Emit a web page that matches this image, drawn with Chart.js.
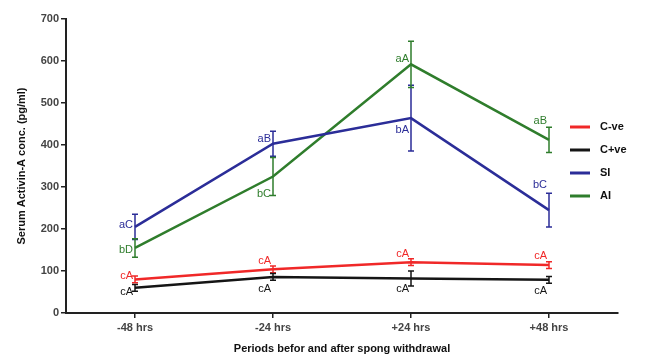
<html>
<body style="margin:0;background:#fff">
<div style="width:649px;height:360px"><canvas id="myChart"></canvas></div>
<script src="https://cdn.jsdelivr.net/npm/chart.js@4.4.1/dist/chart.umd.min.js"></script>
<script>
var periods = ['-48 hrs', '-24 hrs', '+24 hrs', '+48 hrs'];
var yTicks = [0, 100, 200, 300, 400, 500, 600, 700];

var cNeg = [80, 104, 121, 114];
var cPos = [60, 86, 82, 79];
var si = [205, 403, 464, 245];
var ai = [155, 325, 592, 412];

var cNegErr = [8, 8, 8, 8];
var cPosErr = [8, 8, 18, 8];
var siErr = [30, 30, 78, 40];
var aiErr = [22, 45, 55, 30];

var cNegLetters = ['cA', 'cA', 'cA', 'cA'];
var cPosLetters = ['cA', 'cA', 'cA', 'cA'];
var siLetters = ['aC', 'aB', 'bA', 'bC'];
var aiLetters = ['bD', 'bC', 'aA', 'aB'];

// vertical nudge of the letter labels (style only)
var letterDy = [[-3, -8, -8, -9], [4, 12, 10, 11], [-2, -5, 12, -25], [2, 17, -5, -19]];

var colors = ['#f02828', '#151515', '#2b2d98', '#2f7d2c'];
var font = 'Liberation Sans, Arial, sans-serif';

function makeSet(label, data, err, letters, color) {
    return {
        label: label,
        data: data,
        err: err,
        letters: letters,
        borderColor: color,
        backgroundColor: color,
        borderWidth: 2.5,
        pointRadius: 0,
        tension: 0
    };
}

var errorBars = {
    id: 'errorBars',
    afterDatasetsDraw: function (chart) {
        var ctx = chart.ctx;
        var ys = chart.scales.y;
        chart.data.datasets.forEach(function (ds, di) {
            var meta = chart.getDatasetMeta(di);
            ctx.save();
            ctx.strokeStyle = ds.borderColor;
            ctx.fillStyle = ds.borderColor;
            ctx.lineWidth = 1.5;
            meta.data.forEach(function (pt, i) {
                var top = ys.getPixelForValue(ds.data[i] + ds.err[i]);
                var bot = ys.getPixelForValue(ds.data[i] - ds.err[i]);
                ctx.beginPath();
                ctx.moveTo(pt.x, top); ctx.lineTo(pt.x, bot);
                ctx.moveTo(pt.x - 3, top); ctx.lineTo(pt.x + 3, top);
                ctx.moveTo(pt.x - 3, bot); ctx.lineTo(pt.x + 3, bot);
                ctx.stroke();
                ctx.font = '11px ' + font;
                ctx.textAlign = 'right';
                ctx.textBaseline = 'middle';
                ctx.fillText(ds.letters[i], pt.x - 2, pt.y + letterDy[di][i]);
            });
            ctx.restore();
        });
        // legend inside the plot
        ctx.save();
        var lx = 570, ly = 127;
        chart.data.datasets.forEach(function (ds, di) {
            var y = ly + di * 23;
            ctx.strokeStyle = ds.borderColor;
            ctx.lineWidth = 3;
            ctx.beginPath();
            ctx.moveTo(lx, y); ctx.lineTo(lx + 20, y);
            ctx.stroke();
            ctx.fillStyle = '#111';
            ctx.font = 'bold 11px ' + font;
            ctx.textAlign = 'left';
            ctx.textBaseline = 'middle';
            ctx.fillText(ds.label, lx + 30, y);
        });
        ctx.restore();
    }
};

var ctx = document.getElementById('myChart').getContext('2d');
var chart = new Chart(ctx, {
    type: 'line',
    data: {
        labels: periods,
        datasets: [
            makeSet('C-ve', cNeg, cNegErr, cNegLetters, colors[0]),
            makeSet('C+ve', cPos, cPosErr, cPosLetters, colors[1]),
            makeSet('SI', si, siErr, siLetters, colors[2]),
            makeSet('AI', ai, aiErr, aiLetters, colors[3])
        ]
    },
    options: {
        responsive: true,
        maintainAspectRatio: false,
        animation: false,
        layout: { padding: { top: 19, right: 31, bottom: 0, left: 0 } },
        plugins: { legend: { display: false }, tooltip: { enabled: false } },
        scales: {
            x: {
                offset: true,
                grid: { offset: false, drawOnChartArea: false, drawTicks: true, tickLength: 5, tickColor: '#222', lineWidth: 1.5 },
                border: { color: '#222', width: 2 },
                ticks: { color: '#444', font: { family: font, size: 11, weight: 'bold' }, padding: 3, maxRotation: 0 },
                title: { display: true, text: 'Periods befor and after spong withdrawal', color: '#111', font: { family: font, size: 11, weight: 'bold' }, padding: { top: 2, bottom: 4 } },
                afterFit: function (s) { s.height = 47; }
            },
            y: {
                min: 0,
                max: 700,
                afterBuildTicks: function (s) { s.ticks = yTicks.map(function (v) { return { value: v }; }); },
                grid: { drawOnChartArea: false, drawTicks: true, tickLength: 5, tickColor: '#222', lineWidth: 1.5 },
                border: { color: '#222', width: 2 },
                ticks: { color: '#444', font: { family: font, size: 11, weight: 'bold' }, padding: 2 },
                title: { display: true, text: 'Serum Activin-A conc. (pg/ml)', color: '#111', font: { family: font, size: 11, weight: 'bold' }, padding: { top: 15, bottom: 2 } },
                afterFit: function (s) { s.width = 66; }
            }
        }
    },
    plugins: [errorBars]
});
</script>
</body>
</html>
